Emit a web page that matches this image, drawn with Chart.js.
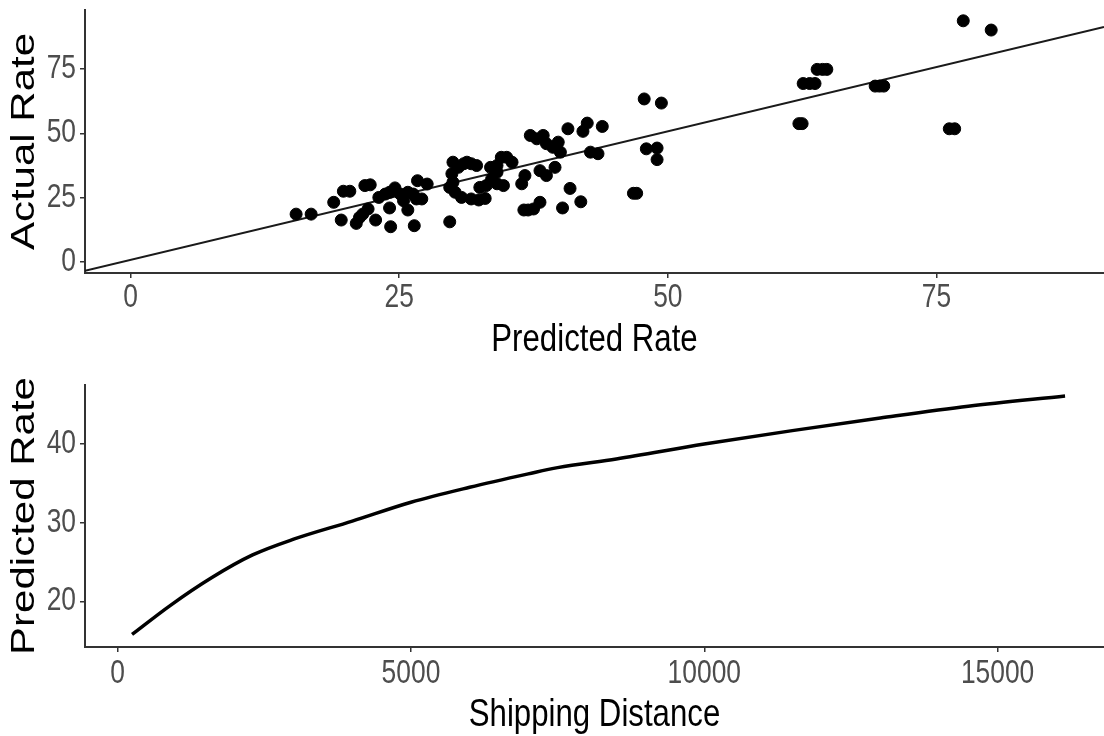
<!DOCTYPE html>
<html>
<head>
<meta charset="utf-8">
<script src="https://cdn.jsdelivr.net/npm/chart.js@4.4.0/dist/chart.umd.min.js"></script>
<style>
	html, body { margin: 0; padding: 0; background: #fff; }
	.box { position: absolute; left: 0; width: 1104px; height: 368px; }
</style>
</head>
<body>
<div class="box" style="top:0"><canvas id="top" width="1104" height="368"></canvas></div>
<div class="box" style="top:368px"><canvas id="bottom" width="1104" height="368"></canvas></div>
<script>
// верхний график: прогноз против факта
const predicted = [
	15.4, 16.8, 18.9, 19.8, 20.4, 21.8, 22.3, 19.6, 21.0, 21.3, 21.6, 22.1, 22.8,
	23.1, 23.7, 24.1, 24.6, 25.1, 25.4, 25.8, 26.3, 26.6, 26.7, 24.1, 24.2, 25.8, 26.4,
	27.1, 27.6, 29.7, 30.0, 30.5, 31.0, 31.3, 31.7, 32.2, 29.9, 30.0, 29.7, 30.2, 30.8,
	31.7, 32.4, 33.0, 32.5, 33.1, 33.6, 34.1, 34.1, 34.7, 33.5, 34.1, 34.5, 35.0, 35.5,
	36.4, 36.7, 36.6, 37.0, 37.5, 38.1, 37.2, 37.8, 38.4, 38.7, 39.3, 39.8, 40.0, 38.1,
	38.7, 39.5, 40.9, 40.2, 41.9, 40.7, 42.1, 42.5, 43.9, 42.8, 43.5, 46.8, 47.1, 47.8,
	49.4, 48.0, 49.0, 49.0, 62.2, 62.5, 62.6, 63.2, 63.7, 63.9, 64.4, 64.8, 69.3, 69.7,
	70.1, 76.2, 76.7, 77.5, 80.1,
]
const actual = [
	18.6, 18.6, 23.2, 27.5, 27.5, 29.7, 30.0, 16.3, 15.0, 17.3, 18.6, 20.6, 16.3,
	25.1, 26.4, 27.1, 28.8, 26.4, 23.8, 27.1, 26.4, 24.5, 31.6, 21.0, 13.7, 20.2, 14.1,
	24.5, 30.3, 15.6, 38.8, 36.8, 38.2, 38.8, 38.2, 37.5, 34.3, 31.0, 29.0, 27.1, 25.1,
	24.5, 24.1, 24.7, 29.0, 29.7, 32.3, 34.9, 30.4, 29.7, 36.8, 37.5, 40.7, 40.7, 38.8,
	30.4, 33.6, 20.2, 20.2, 20.6, 23.2, 49.2, 47.9, 49.2, 46.0, 44.6, 46.6, 42.7, 35.5,
	33.6, 36.8, 28.6, 21.0, 23.4, 51.8, 50.8, 54.0, 52.7, 42.7, 42.1, 26.7, 26.7, 63.4,
	61.8, 44.0, 44.3, 39.8, 53.8, 53.8, 69.4, 69.4, 69.4, 74.9, 74.9, 74.9, 68.4, 68.4,
	68.4, 51.8, 51.8, 93.8, 90.2,
]
// линия подгонки (концы по краям панели)
const fitX = [-4.25, 90.6]
const fitY = [-3.45, 91.4]
const topXTicks = [0, 25, 50, 75]
const topYTicks = [0, 25, 50, 75]

// нижний график: прогноз от расстояния
const distance = [245, 900, 1600, 2300, 3000, 4000, 5000, 6000, 7000, 7500, 8500, 10000, 11500, 13000, 14500, 16150]
const predictedByDistance = [15.8, 19.5, 23.0, 25.9, 27.9, 30.2, 32.6, 34.5, 36.2, 37.0, 38.1, 40.0, 41.7, 43.3, 44.8, 46.1]
const bottomXTicks = [0, 5000, 10000, 15000]
const bottomYTicks = [20, 30, 40]

const sans = "'Liberation Sans', Arial, Helvetica, sans-serif"
const tickColor = '#4d4d4d'
const axisColor = '#333'
const squeeze = 0.8 // шрифт в оригинале узкий

// сжимаем текст вокруг точки привязки
function narrow(scale, method, sx, sy) {
	const orig = scale[method].bind(scale)
	scale[method] = (...args) => {
		const ctx = scale.ctx
		const fill = ctx.fillText
		ctx.fillText = function (t, x, y, w) {
			this.save()
			this.scale(sx, sy)
			if (w === undefined) fill.call(this, t, x / sx, y / sy)
			else fill.call(this, t, x / sx, y / sy, w)
			this.restore()
		}
		orig(...args)
		ctx.fillText = fill
	}
}

function axis(opts) {
	return {
		type: 'linear',
		min: opts.min,
		max: opts.max,
		afterBuildTicks: s => { s.ticks = opts.ticks.map(v => ({ value: v })) },
		afterFit: s => {
			if (opts.width) s.width = opts.width
			if (opts.height) s.height = opts.height
			s.paddingTop = 0
			s.paddingBottom = 0
			s.paddingLeft = 0
			s.paddingRight = 0
			if (!s._narrowed) {
				narrow(s, 'drawLabels', squeeze, 1)
				if (s.isHorizontal()) narrow(s, 'drawTitle', squeeze, 1)
				else narrow(s, 'drawTitle', 1, squeeze)
				s._narrowed = true
			}
		},
		border: { display: true, color: axisColor, width: 2 },
		grid: { drawOnChartArea: false, drawTicks: true, tickLength: 5, color: axisColor, lineWidth: 1.5 },
		ticks: {
			color: tickColor,
			font: { family: sans, size: 33 },
			padding: opts.padding,
			maxRotation: 0,
			autoSkip: false,
			callback: v => String(v),
		},
		title: {
			display: true,
			text: opts.title,
			color: '#000',
			font: opts.titleFont,
			padding: opts.titlePadding,
		},
	}
}

new Chart(document.getElementById('top'), {
	type: 'scatter',
	data: {
		datasets: [
			{
				data: predicted.map((x, i) => ({ x, y: actual[i] })),
				backgroundColor: '#000',
				borderColor: '#000',
				pointRadius: 6,
				pointHoverRadius: 6,
			},
			{
				data: fitX.map((x, i) => ({ x, y: fitY[i] })),
				showLine: true,
				borderColor: '#1a1a1a',
				borderWidth: 2,
				pointRadius: 0,
			},
		],
	},
	options: {
		responsive: false,
		animation: false,
		devicePixelRatio: 1,
		layout: { autoPadding: false, padding: { top: 10, left: 0, right: 0, bottom: 0 } },
		plugins: { legend: { display: false }, tooltip: { enabled: false } },
		scales: {
			x: axis({
				min: -4.25, max: 90.6, ticks: topXTicks, height: 95, padding: 0,
				title: 'Predicted Rate',
				titleFont: { family: sans, size: 39, lineHeight: 1 },
				titlePadding: { top: 0, bottom: 8 },
			}),
			y: axis({
				min: -4.3, max: 98, ticks: topYTicks, width: 85, padding: 4,
				title: 'Actual Rate',
				titleFont: { family: sans, size: 42, lineHeight: 1 },
				titlePadding: { top: 4, bottom: 0 },
			}),
		},
	},
})

new Chart(document.getElementById('bottom'), {
	type: 'scatter',
	data: {
		datasets: [
			{
				data: distance.map((x, i) => ({ x, y: predictedByDistance[i] })),
				showLine: true,
				cubicInterpolationMode: 'monotone',
				borderColor: '#000',
				borderWidth: 3.5,
				pointRadius: 0,
			},
		],
	},
	options: {
		responsive: false,
		animation: false,
		devicePixelRatio: 1,
		layout: { autoPadding: false, padding: { top: 17, left: 0, right: 0, bottom: 0 } },
		plugins: { legend: { display: false }, tooltip: { enabled: false } },
		scales: {
			x: axis({
				min: -557, max: 16814, ticks: bottomXTicks, height: 89, padding: 2,
				title: 'Shipping Distance',
				titleFont: { family: sans, size: 39, lineHeight: 1 },
				titlePadding: { top: 0, bottom: 1 },
			}),
			y: axis({
				min: 14.2, max: 47.5, ticks: bottomYTicks, width: 85, padding: 4,
				title: 'Predicted Rate',
				titleFont: { family: sans, size: 42, lineHeight: 1 },
				titlePadding: { top: 4, bottom: 0 },
			}),
		},
	},
})
</script>
</body>
</html>
